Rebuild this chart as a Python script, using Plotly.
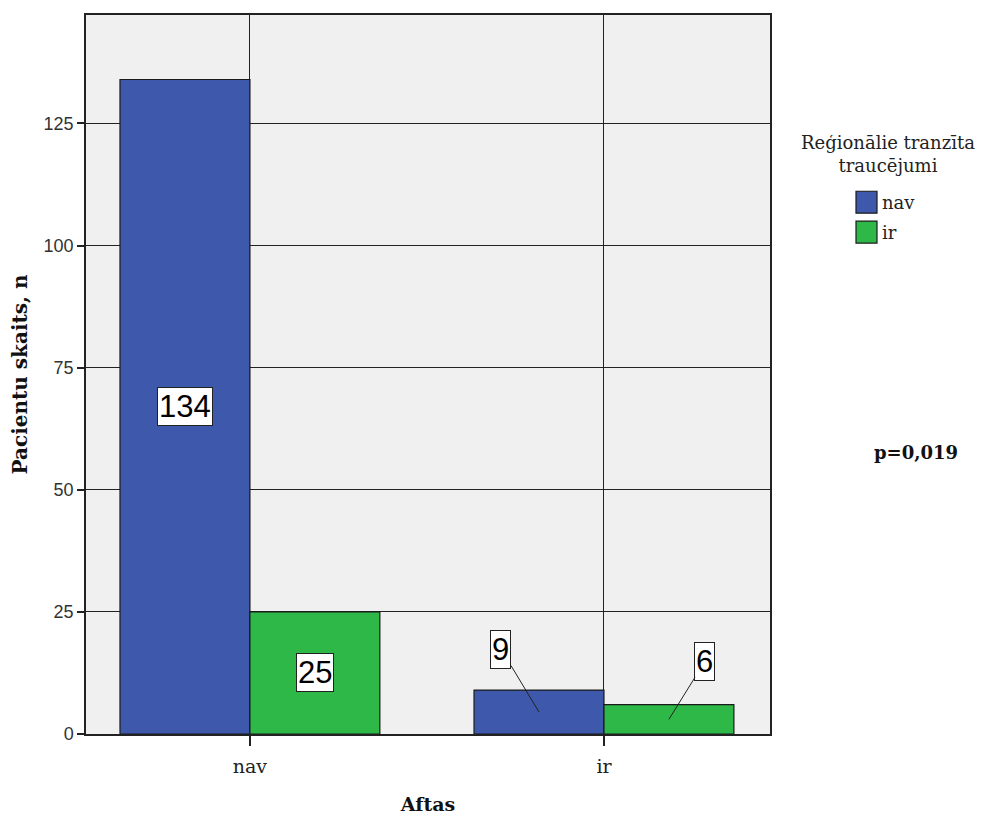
import plotly.graph_objects as go

categories = ["nav", "ir"]
series_names = ["nav", "ir"]
values_nav = [134, 9]
values_ir = [25, 6]
series_values = [values_nav, values_ir]
y_ticks = [0, 25, 50, 75, 100, 125]
colors = ["#3E58AC", "#2EB848"]
legend_title = "Reģionālie tranzīta<br>traucējumi"
p_text = "p=0,019"

SERIF = "DejaVu Serif"
SANS = "Liberation Sans"
bargap = 0.266

# page body has an 8px margin
OFF = 8
W, H = 984 - OFF, 817 - OFF
L, R, T, B = 86, 770, 13, 735  # plot area in window pixels

fig = go.Figure()
for name, vals, col in zip(series_names, series_values, colors):
    fig.add_trace(go.Bar(
        x=categories, y=vals, name=name,
        marker=dict(color=col, line=dict(color="#1a1a1a", width=1.2)),
        showlegend=False,
    ))

# value labels
bw = (1 - bargap) / 2
label_offsets = {  # (ax, ay) pixel offsets of label boxes for small bars
    (1, 0): (-38, -63),
    (1, 1): (36, -58),
}
for si, vals in enumerate(series_values):
    for ci, v in enumerate(vals):
        xpos = ci + (si - 0.5) * bw
        off = label_offsets.get((ci, si))
        common = dict(
            x=xpos, y=v / 2, xref="x", yref="y", text=str(v),
            font=dict(family=SANS, size=31, color="black"),
            bgcolor="white", bordercolor="#222", borderwidth=1, borderpad=1,
        )
        if off:
            fig.add_annotation(**common, showarrow=True, ax=off[0], ay=off[1],
                               arrowhead=0, arrowwidth=1, arrowcolor="#222", standoff=0)
        else:
            fig.add_annotation(**common, showarrow=False)

def px(xp):
    return (xp - L) / (R - L)
def py(yp):
    return (B - yp) / (B - T)

fig.add_annotation(x=px(888), y=py(153), xref="paper", yref="paper",
                   text=legend_title, showarrow=False, align="center",
                   xanchor="center", yanchor="middle",
                   font=dict(family=SERIF, size=18, color="#222"))
for i, (name, col) in enumerate(zip(series_names, colors)):
    top = 190 + i * 30
    fig.add_shape(type="rect", xref="paper", yref="paper",
                  x0=px(856), x1=px(877), y0=py(top + 22), y1=py(top),
                  fillcolor=col, line=dict(color="#1a1a1a", width=1.2))
    fig.add_annotation(x=px(880), y=py(top + 11), xref="paper", yref="paper",
                       text=name, showarrow=False, xanchor="left", yanchor="middle",
                       font=dict(family=SERIF, size=18, color="#222"))

fig.add_annotation(x=px(916), y=py(452), xref="paper", yref="paper",
                   text="<b>" + p_text + "</b>", showarrow=False,
                   xanchor="center", yanchor="middle",
                   font=dict(family=SERIF, size=18, color="#111"))

fig.update_layout(
    width=W, height=H,
    margin=dict(l=L - OFF, r=984 - R, t=T - OFF, b=817 - B),
    paper_bgcolor="white", plot_bgcolor="#F0F0F0",
    barmode="group", bargap=bargap, bargroupgap=0,
    showlegend=False,
)
fig.update_xaxes(
    type="category", range=[-0.463, 1.469],
    showgrid=True, gridcolor="#222", gridwidth=1,
    showline=True, mirror=True, linecolor="#222", linewidth=1.5,
    ticks="outside", ticklen=10, tickcolor="#222", tickwidth=1.5,
    ticklabelstandoff=4,
    tickfont=dict(family=SERIF, size=19, color="#222"),
    title=dict(text="<b>Aftas</b>", font=dict(family=SERIF, size=19, color="#111"), standoff=22),
)
fig.update_yaxes(
    range=[0, 147.2], tickvals=y_ticks,
    showgrid=True, gridcolor="#222", gridwidth=1, zeroline=False,
    showline=True, mirror=True, linecolor="#222", linewidth=1.5,
    ticks="outside", ticklen=7, tickcolor="#222", tickwidth=1.5,
    tickfont=dict(family=SANS, size=18, color="#333"),
    title=dict(text="<b>Pacientu skaits, n</b>", font=dict(family=SERIF, size=20, color="#111"), standoff=14),
)

fig.write_html("out.html")
